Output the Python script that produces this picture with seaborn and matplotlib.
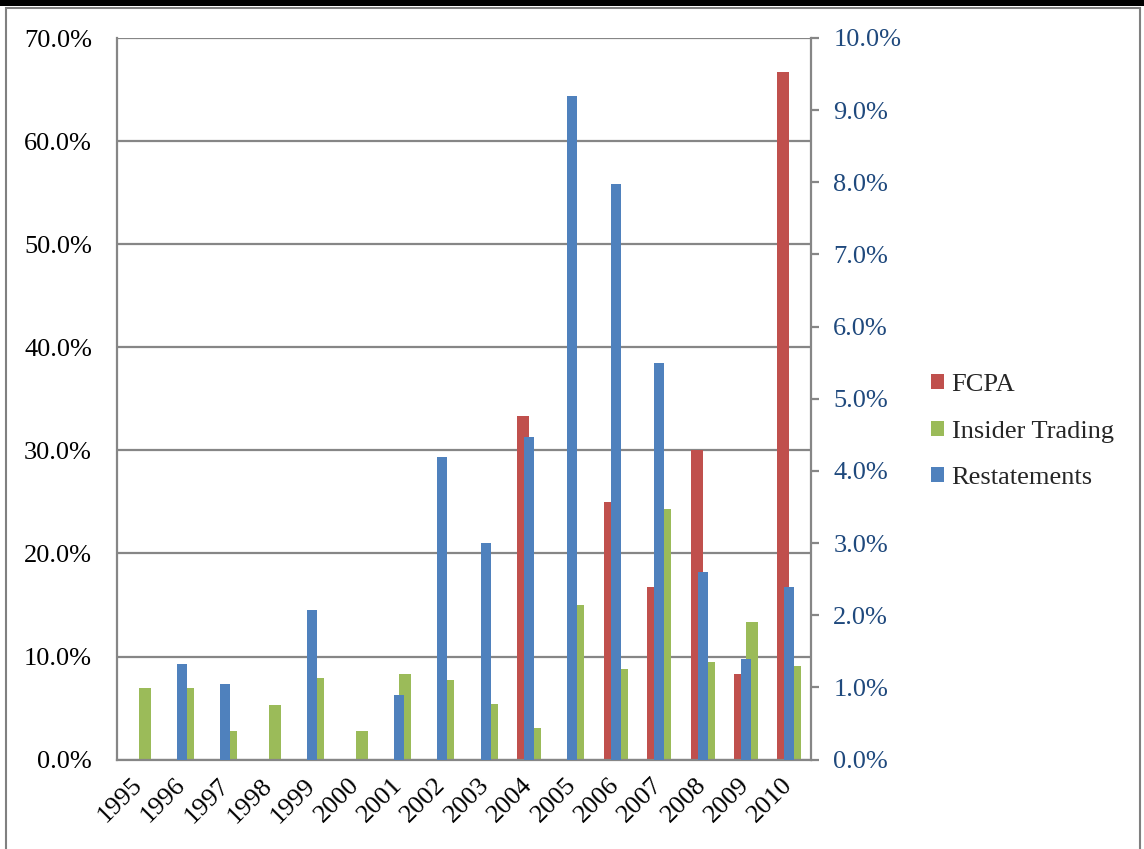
import matplotlib
matplotlib.use("Agg")
import matplotlib.pyplot as plt
import seaborn as sns
import pandas as pd
from matplotlib.patches import Patch, Rectangle
from matplotlib.ticker import FuncFormatter, MultipleLocator

years = ['1995', '1996', '1997', '1998', '1999', '2000', '2001', '2002',
         '2003', '2004', '2005', '2006', '2007', '2008', '2009', '2010']
fcpa = [0, 0, 0, 0, 0, 0, 0, 0, 0, 33.3, 0, 25.0, 16.7, 30.0, 8.3, 66.7]
insider = [6.9, 6.9, 2.8, 5.3, 7.9, 2.8, 8.3, 7.7, 5.4, 3.1, 15.0, 8.8, 24.3, 9.5, 13.3, 9.1]
restatements = [0, 1.32, 1.05, 0, 2.07, 0, 0.89, 4.20, 3.00, 4.47, 9.20, 7.98, 5.49, 2.60, 1.40, 2.39]
series_names = ['FCPA', 'Insider Trading', 'Restatements']

RED, GREEN, BLUE = '#C0504D', '#9BBB59', '#4F81BD'
GREY = '#868686'
RIGHT_LBL = '#1F497D'

sns.set_style('white')
plt.rcParams['font.family'] = ['Liberation Serif', 'DejaVu Serif']
FS = 19

df = pd.DataFrame({
    'year': years * 2,
    'value': fcpa + insider,
    'series': [series_names[0]] * len(years) + [series_names[1]] * len(years),
})

fig = plt.figure(figsize=(11.44, 8.49), dpi=100)
ax = fig.add_axes([117 / 1144, 1 - 759.6 / 849, (811 - 117) / 1144, (759.6 - 38) / 849])

sns.barplot(data=df, x='year', y='value', hue='series', order=years,
            hue_order=series_names[:2], palette=[RED, GREEN], width=0.553,
            saturation=1, linewidth=0, ax=ax, legend=False, errorbar=None)

ax2 = ax.twinx()
sns.barplot(x=years, y=restatements, order=years, color=BLUE, width=0.23,
            saturation=1, linewidth=0, ax=ax2, errorbar=None)

ax.set_ylim(0, 70)
ax2.set_ylim(0, 10)
ax.set_xlim(-0.5, len(years) - 0.5)
ax.yaxis.set_major_locator(MultipleLocator(10))
ax2.yaxis.set_major_locator(MultipleLocator(1))
fmt = FuncFormatter(lambda v, p: f'{v:.1f}%')
ax.yaxis.set_major_formatter(fmt)
ax2.yaxis.set_major_formatter(fmt)

ax.set_axisbelow(True)
ax.yaxis.grid(True, color=GREY, linewidth=1.6)
ax.xaxis.grid(False)
ax.set_xlabel('')
ax.set_ylabel('')
ax2.set_xlabel('')
ax2.set_ylabel('')

for name, sp in ax.spines.items():
    sp.set_visible(name in ('left', 'bottom'))
    sp.set_color(GREY)
    sp.set_linewidth(1.6)
for name, sp in ax2.spines.items():
    sp.set_visible(name == 'right')
    sp.set_color(GREY)
    sp.set_linewidth(1.6)

ax.tick_params(axis='y', length=0, pad=18, labelsize=FS, labelcolor='black')
ax.tick_params(axis='x', length=0, pad=16, labelsize=FS, labelcolor='black')
ax2.tick_params(axis='y', length=6, width=1.6, color=GREY, pad=10, labelsize=FS,
                labelcolor=RIGHT_LBL, direction='out')
for lbl in ax.get_xticklabels():
    lbl.set_rotation(45)
    lbl.set_ha('right')
    lbl.set_va('center')
    lbl.set_rotation_mode('anchor')

handles = [Patch(facecolor=c, edgecolor='none') for c in (RED, GREEN, BLUE)]
fig.legend(handles, series_names, loc='upper left',
           bbox_to_anchor=(931 / 1144, 1 - 374 / 849), frameon=False,
           fontsize=FS, handlelength=0.5, handleheight=0.5, handletextpad=0.28,
           labelspacing=0.93, borderpad=0, borderaxespad=0)

fig.add_artist(Rectangle((0, 1 - 6 / 849), 1, 6 / 849, transform=fig.transFigure,
                         facecolor='black', edgecolor='none'))
fig.add_artist(Rectangle((6 / 1144, -0.01), (1140 - 6) / 1144, 1.01 - 8 / 849,
                         transform=fig.transFigure, fill=False,
                         edgecolor='#808080', linewidth=1.5))

fig.savefig('out.png', dpi=100)
